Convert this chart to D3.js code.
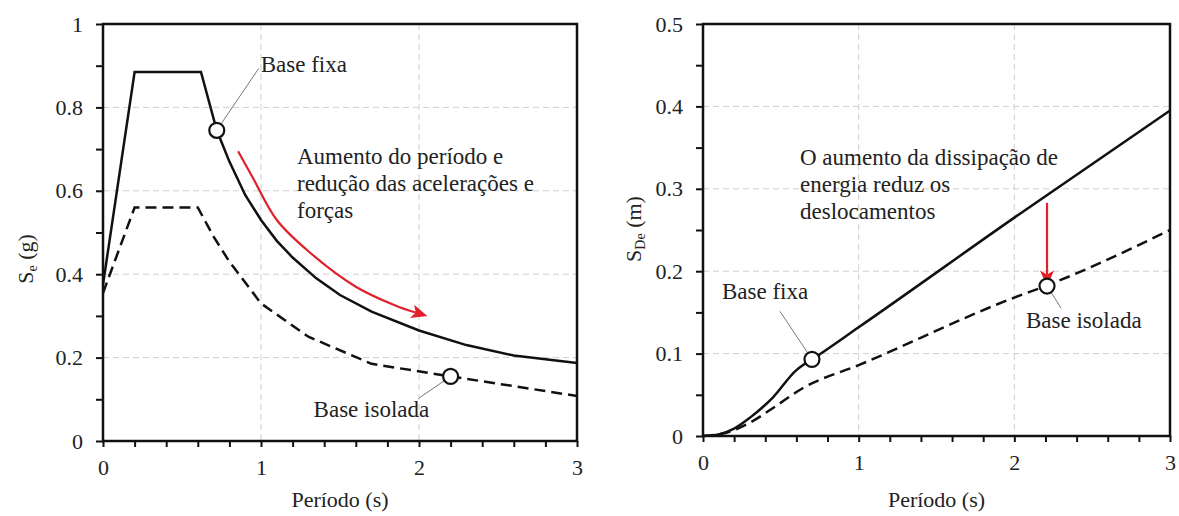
<!DOCTYPE html>
<html>
<head>
<meta charset="utf-8">
<script src="https://cdn.jsdelivr.net/npm/d3@7"></script>
<style>
  body { margin: 0; background: #fff; }
</style>
</head>
<body>
<div id="chart"></div>
<script>
// left panel: pseudo-acceleration spectrum
var accPeriodFixed = [0, 0.2, 0.62, 0.72, 0.8, 0.9, 1.0, 1.1, 1.2, 1.35, 1.5, 1.7, 2.0, 2.3, 2.6, 3.0];
var accFixed       = [0.375, 0.885, 0.885, 0.745, 0.67, 0.59, 0.53, 0.48, 0.44, 0.39, 0.35, 0.31, 0.265, 0.23, 0.205, 0.187];
var accPeriodIso   = [0, 0.2, 0.6, 0.7, 0.8, 1.0, 1.3, 1.7, 2.2, 3.0];
var accIso         = [0.355, 0.56, 0.56, 0.49, 0.43, 0.33, 0.25, 0.185, 0.155, 0.108];
var accArrowT      = [0.855, 0.95, 1.1, 1.3, 1.6, 1.85, 1.98];
var accArrowS      = [0.695, 0.63, 0.53, 0.455, 0.37, 0.325, 0.308];

// right panel: displacement spectrum
var dispPeriodFixed = [0, 0.1, 0.2, 0.3, 0.45, 0.6, 0.65, 0.7, 1, 2, 3];
var dispFixed       = [0, 0.002, 0.009, 0.022, 0.047, 0.08, 0.087, 0.093, 0.132, 0.265, 0.395];
var dispPeriodIso   = [0, 0.15, 0.3, 0.45, 0.64, 1, 2, 2.2, 3];
var dispIso         = [0, 0.004, 0.016, 0.034, 0.058, 0.086, 0.168, 0.182, 0.25];
var dispArrowT      = [2.21, 2.21];
var dispArrowS      = [0.283, 0.196];

// ticks
var periodTicks = [0, 1, 2, 3];
var leftYTicks  = [0, 0.2, 0.4, 0.6, 0.8, 1];
var rightYTicks = [0, 0.1, 0.2, 0.3, 0.4, 0.5];

var FONT = "'Liberation Serif', serif";
var width = 1179, height = 516;
var svg = d3.select("#chart").append("svg")
    .attr("width", width)
    .attr("height", height)
    .style("font-family", FONT);

var defs = svg.append("defs");
defs.append("marker")
    .attr("id", "redhead")
    .attr("markerUnits", "userSpaceOnUse")
    .attr("viewBox", "0 0 16 14")
    .attr("refX", 4)
    .attr("refY", 7)
    .attr("markerWidth", 16)
    .attr("markerHeight", 14)
    .attr("orient", "auto")
    .append("path")
    .attr("d", "M0,0 L16,7 L0,14 L4,7 Z")
    .attr("fill", "#e0202a");

function zip(xs, ys) {
    return xs.map(function(d, i) { return [d, ys[i]]; });
}

function drawPanel(p) {
    var x = d3.scaleLinear().domain([0, 3]).range([p.left, p.right]);
    var y = d3.scaleLinear().domain([0, p.ymax]).range([p.bottom, p.top]);
    var g = svg.append("g");

    // dashed grid
    g.selectAll(".gx").data(periodTicks.slice(1, 3)).enter().append("line")
        .attr("x1", function(d) { return x(d); }).attr("x2", function(d) { return x(d); })
        .attr("y1", p.top).attr("y2", p.bottom)
        .attr("stroke", "#cfcfcf").attr("stroke-width", 1).attr("stroke-dasharray", "6,4");
    g.selectAll(".gy").data(p.yTicks.slice(1, -1)).enter().append("line")
        .attr("y1", function(d) { return y(d); }).attr("y2", function(d) { return y(d); })
        .attr("x1", p.left).attr("x2", p.right)
        .attr("stroke", "#cfcfcf").attr("stroke-width", 1).attr("stroke-dasharray", "6,4");

    // minor ticks
    var minorX = d3.range(0, 3.0001, 0.2);
    var minorY = d3.range(0, p.ymax + 1e-6, p.ymax / 10);
    g.append("g").attr("transform", "translate(0," + p.bottom + ")")
        .call(d3.axisBottom(x).tickValues(minorX).tickSize(6).tickFormat(""))
        .call(function(a) { a.select(".domain").remove(); a.selectAll("line").attr("stroke", "#111").attr("stroke-width", 2); });
    g.append("g").attr("transform", "translate(" + p.left + ",0)")
        .call(d3.axisLeft(y).tickValues(minorY).tickSize(7).tickFormat(""))
        .call(function(a) { a.select(".domain").remove(); a.selectAll("line").attr("stroke", "#111").attr("stroke-width", 2); });

    // labels
    var xa = g.append("g").attr("transform", "translate(0," + p.bottom + ")")
        .call(d3.axisBottom(x).tickValues(periodTicks).tickSize(0).tickPadding(18).tickFormat(d3.format("~g")));
    xa.select(".domain").remove();
    xa.attr("font-family", null);
    xa.selectAll("text").attr("font-size", 22).attr("fill", "#222");
    var ya = g.append("g").attr("transform", "translate(" + p.left + ",0)")
        .call(d3.axisLeft(y).tickValues(p.yTicks).tickSize(0).tickPadding(20).tickFormat(d3.format("~g")));
    ya.select(".domain").remove();
    ya.attr("font-family", null);
    ya.selectAll("text").attr("font-size", 22).attr("fill", "#222");

    // frame
    g.append("rect")
        .attr("x", p.left).attr("y", p.top)
        .attr("width", p.right - p.left).attr("height", p.bottom - p.top)
        .attr("fill", "none").attr("stroke", "#111").attr("stroke-width", 2.5);

    var line = d3.line()
        .x(function(d) { return x(d[0]); })
        .y(function(d) { return y(d[1]); })
        .curve(p.curve);

    g.append("path").datum(zip(p.fixedT, p.fixedV))
        .attr("d", line).attr("fill", "none").attr("stroke", "#111").attr("stroke-width", 2.5);
    g.append("path").datum(zip(p.isoT, p.isoV))
        .attr("d", line).attr("fill", "none").attr("stroke", "#111").attr("stroke-width", 2.5)
        .attr("stroke-dasharray", "11,6");

    // red arrow
    var arrowLine = d3.line()
        .x(function(d) { return x(d[0]); })
        .y(function(d) { return y(d[1]); })
        .curve(d3.curveCatmullRom);
    g.append("path").datum(zip(p.arrowT, p.arrowV))
        .attr("d", arrowLine).attr("fill", "none").attr("stroke", "#e0202a").attr("stroke-width", 2.2)
        .attr("marker-end", "url(#redhead)");

    // leader lines and markers
    p.notes.forEach(function(n) {
        g.append("line")
            .attr("x1", x(n.t)).attr("y1", y(n.v))
            .attr("x2", x(n.t) + n.lx).attr("y2", y(n.v) + n.ly)
            .attr("stroke", "#777").attr("stroke-width", 1);
        g.append("circle")
            .attr("cx", x(n.t)).attr("cy", y(n.v)).attr("r", 7.5)
            .attr("fill", "#fff").attr("stroke", "#111").attr("stroke-width", 2.2);
        g.append("text")
            .attr("x", x(n.t) + n.tx).attr("y", y(n.v) + n.ty)
            .attr("font-size", 23).attr("fill", "#222").text(n.label);
    });

    // annotation block
    var ann = g.append("text").attr("font-size", 23).attr("fill", "#222");
    p.annotation.forEach(function(s, i) {
        ann.append("tspan").attr("x", p.annX).attr("y", p.annY + i * 27).text(s);
    });

    // axis titles
    g.append("text")
        .attr("x", (p.left + p.right) / 2).attr("y", 507)
        .attr("text-anchor", "middle").attr("font-size", 22).attr("fill", "#222")
        .text("Período (s)");
    var yt = g.append("text")
        .attr("transform", "translate(" + p.yTitleX + "," + p.yTitleY + ") rotate(-90)")
        .attr("text-anchor", "middle").attr("font-size", 22).attr("fill", "#222");
    yt.append("tspan").text("S");
    yt.append("tspan").attr("font-size", 14).attr("dy", 4).text(p.sub);
    yt.append("tspan").attr("dy", -4).text(p.unit);
}

drawPanel({
    left: 103, right: 577, top: 24, bottom: 441, ymax: 1,
    yTicks: leftYTicks,
    fixedT: accPeriodFixed, fixedV: accFixed,
    isoT: accPeriodIso, isoV: accIso,
    arrowT: accArrowT, arrowV: accArrowS,
    curve: d3.curveLinear,
    notes: [
        {t: 0.72, v: 0.745, lx: 42, ly: -62, tx: 44, ty: -58, label: "Base fixa"},
        {t: 2.2, v: 0.155, lx: -32, ly: 22, tx: -137, ty: 41, label: "Base isolada"}
    ],
    annotation: ["Aumento do período e", "redução das acelerações e", "forças"],
    annX: 297, annY: 164,
    sub: "e", unit: " (g)", yTitleX: 33, yTitleY: 259
});

drawPanel({
    left: 703, right: 1170, top: 24, bottom: 436, ymax: 0.5,
    yTicks: rightYTicks,
    fixedT: dispPeriodFixed, fixedV: dispFixed,
    isoT: dispPeriodIso, isoV: dispIso,
    arrowT: dispArrowT, arrowV: dispArrowS,
    curve: d3.curveMonotoneX,
    notes: [
        {t: 0.7, v: 0.093, lx: -32, ly: -48, tx: -90, ty: -60, label: "Base fixa"},
        {t: 2.21, v: 0.182, lx: 14, ly: 22, tx: -21, ty: 42, label: "Base isolada"}
    ],
    annotation: ["O aumento da dissipação de", "energia reduz os", "deslocamentos"],
    annX: 800, annY: 165,
    sub: "De", unit: " (m)", yTitleX: 641, yTitleY: 229
});
</script>
</body>
</html>
